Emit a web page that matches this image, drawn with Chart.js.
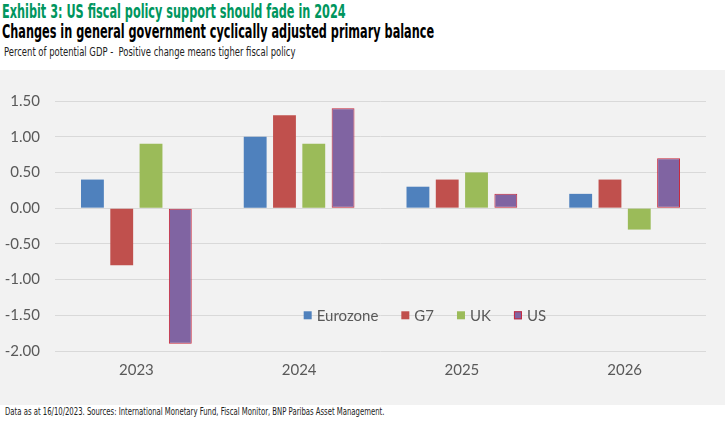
<!DOCTYPE html>
<html>
<head>
<meta charset="utf-8">
<script src="https://cdn.jsdelivr.net/npm/chart.js@4"></script>
<style>
  body { margin: 0; width: 725px; height: 422px; background: #fff; position: relative; overflow: hidden; font-family: "DejaVu Sans Condensed", "DejaVu Sans", sans-serif; }
  .txt { position: absolute; white-space: nowrap; transform-origin: left top; }
  #title { left: 2px; top: 0px; font-size: 19px; font-weight: bold; color: #00965e; transform: scaleX(0.66); }
  #subtitle { left: 2px; top: 20px; font-size: 19px; font-weight: bold; color: #000; transform: scaleX(0.66); }
  #note { left: 4px; top: 44px; font-size: 12.5px; color: #222; transform: scaleX(0.75); }
  #panel { position: absolute; left: 0; top: 70px; width: 725px; height: 335px; background: #f2f2f2; }
  #footer { left: 5px; top: 405px; font-size: 10.5px; color: #222; transform: scaleX(0.73); }
</style>
</head>
<body>
<div id="title" class="txt">Exhibit 3: US fiscal policy support should fade in 2024</div>
<div id="subtitle" class="txt">Changes in general government cyclically adjusted primary balance</div>
<div id="note" class="txt">Percent of potential GDP -&nbsp; Positive change means tigher fiscal policy</div>
<div id="panel"><canvas id="myChart"></canvas></div>
<div id="footer" class="txt">Data as at 16/10/2023. Sources: International Monetary Fund, Fiscal Monitor, BNP Paribas Asset Management.</div>
<script>
var years = ['2023', '2024', '2025', '2026'];
var eurozone = [0.4, 1.0, 0.3, 0.2];
var g7 = [-0.8, 1.3, 0.4, 0.4];
var uk = [0.9, 0.9, 0.5, -0.3];
var us = [-1.9, 1.4, 0.2, 0.7];

var tickFont = { family: 'Lato', size: 15 };

// legend drawn inside the plot, on the -1.50 gridline
var innerLegend = {
    id: 'innerLegend',
    afterDraw: function(chart) {
        var ctx = chart.ctx;
        var area = chart.chartArea;
        var y = chart.scales.y.getPixelForValue(-1.5);
        var x = area.left + 0.382 * (area.right - area.left);
        ctx.save();
        ctx.font = '15px Lato';
        ctx.textBaseline = 'middle';
        chart.data.datasets.forEach(function(ds) {
            ctx.fillStyle = ds.backgroundColor;
            ctx.fillRect(x, y - 4, 8, 8);
            if (ds.borderWidth) {
                ctx.strokeStyle = ds.borderColor;
                ctx.lineWidth = 1;
                ctx.strokeRect(x + 0.5, y - 3.5, 7, 7);
            }
            ctx.fillStyle = '#595959';
            ctx.fillText(ds.label, x + 13, y + 1);
            x += 13 + ctx.measureText(ds.label).width + 23;
        });
        ctx.restore();
    }
};

function showChart() {
    const data = {
        labels: years,
        datasets: [
            { label: 'Eurozone', data: eurozone, backgroundColor: '#4f81bd', borderWidth: 0 },
            { label: 'G7', data: g7, backgroundColor: '#c0504d', borderWidth: 0 },
            { label: 'UK', data: uk, backgroundColor: '#9bbb59', borderWidth: 0 },
            { label: 'US', data: us, backgroundColor: '#8064a2', borderColor: '#c8283c', borderWidth: 1, borderSkipped: false }
        ]
    };
    const options = {
        responsive: true,
        maintainAspectRatio: false,
        animation: false,
        categoryPercentage: 0.72,
        barPercentage: 0.78,
        layout: { padding: { top: 31, right: 19, left: 0, bottom: 0 } },
        plugins: {
            legend: { display: false },
            tooltip: { enabled: false }
        },
        scales: {
            x: {
                grid: { display: false, drawTicks: false },
                border: { display: false },
                ticks: { font: tickFont, color: '#595959', padding: 10 },
                afterFit: function(scale) { scale.height = 54; }
            },
            y: {
                min: -2,
                max: 1.5,
                grid: { color: '#d9d9d9', lineWidth: 1, drawTicks: false },
                border: { display: false },
                ticks: {
                    stepSize: 0.5,
                    font: tickFont,
                    color: '#595959',
                    padding: 15,
                    callback: function(v) { return v.toFixed(2); }
                },
                afterFit: function(scale) { scale.width = 55; }
            }
        }
    };
    new Chart(document.getElementById('myChart'), {
        type: 'bar',
        data: data,
        options: options,
        plugins: [innerLegend]
    });
}

window.onload = showChart;
</script>
</body>
</html>
